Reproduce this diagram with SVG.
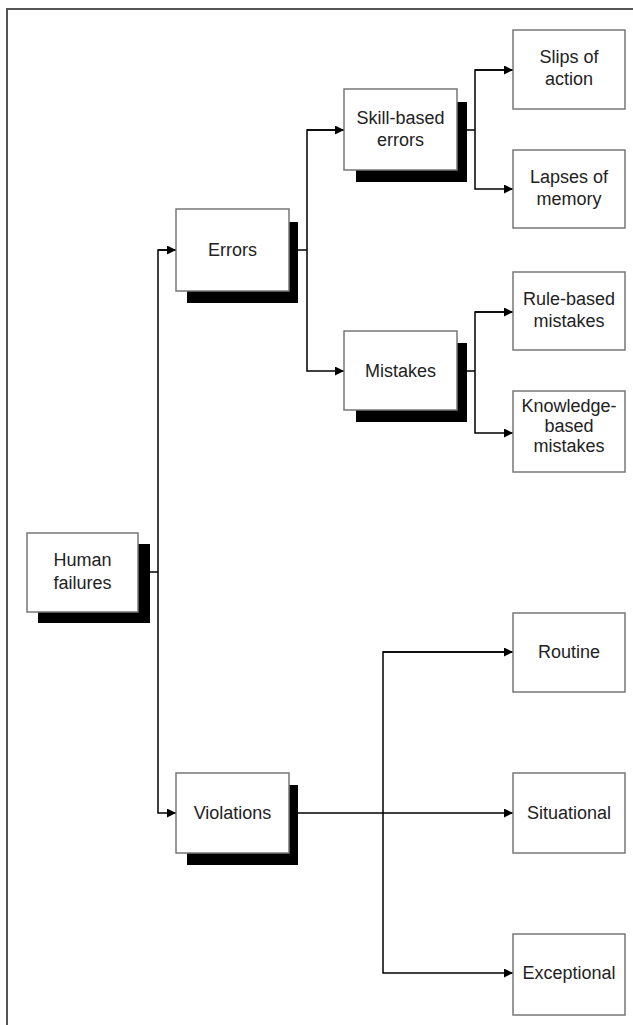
<svg xmlns="http://www.w3.org/2000/svg" width="633" height="1025" viewBox="0 0 633 1025">
<style>
.box{fill:#fff;stroke:#777;stroke-width:1.5}
.sh{fill:#000}
.t{font-family:"Liberation Sans",Arial,sans-serif;font-size:18px;fill:#222;text-anchor:middle}
.c{fill:none;stroke:#000;stroke-width:1.5}
</style>
<defs>
<marker id="ah" viewBox="0 0 10 10" refX="10" refY="5" markerWidth="10" markerHeight="9" markerUnits="userSpaceOnUse" orient="auto">
<path d="M0,0 L10,5 L0,10 z" fill="#000"/>
</marker>
</defs>
<rect width="633" height="1025" fill="#fff"/>
<path d="M7,1025 V9 H633" fill="none" stroke="#555" stroke-width="2"/>
<g id="connectors">
<path class="c" d="M138,572 H158"/>
<path class="c" d="M176,250 H158 V813 H176" marker-end="url(#ah)"/>
<path class="c" d="M158,250 H176" marker-end="url(#ah)"/>
<path class="c" d="M289,250 H307"/>
<path class="c" d="M344,130 H307 V371 H344" marker-end="url(#ah)"/>
<path class="c" d="M307,130 H344" marker-end="url(#ah)"/>
<path class="c" d="M457,130 H475"/>
<path class="c" d="M513,70 H475 V189 H513" marker-end="url(#ah)"/>
<path class="c" d="M475,70 H513" marker-end="url(#ah)"/>
<path class="c" d="M457,371 H475"/>
<path class="c" d="M513,312 H475 V433 H513" marker-end="url(#ah)"/>
<path class="c" d="M475,312 H513" marker-end="url(#ah)"/>
<path class="c" d="M289,813 H513" marker-end="url(#ah)"/>
<path class="c" d="M513,652 H383 V973 H513" marker-end="url(#ah)"/>
<path class="c" d="M383,652 H513" marker-end="url(#ah)"/>
</g>
<g id="human-failures">
<rect class="sh" x="38" y="544" width="112" height="79"/>
<rect class="box" x="27" y="533" width="111" height="79"/>
<text class="t" x="82.5" y="566">Human</text>
<text class="t" x="82.5" y="589">failures</text>
</g>
<g id="errors">
<rect class="sh" x="187" y="222" width="111" height="81"/>
<rect class="box" x="176" y="209" width="113" height="82"/>
<text class="t" x="232.5" y="256">Errors</text>
</g>
<g id="violations">
<rect class="sh" x="187" y="785" width="111" height="80"/>
<rect class="box" x="176" y="773" width="113" height="80"/>
<text class="t" x="232.5" y="819">Violations</text>
</g>
<g id="skill-based">
<rect class="sh" x="356" y="102" width="111" height="80"/>
<rect class="box" x="344" y="89" width="113" height="81"/>
<text class="t" x="400.5" y="124">Skill-based</text>
<text class="t" x="400.5" y="146">errors</text>
</g>
<g id="mistakes">
<rect class="sh" x="356" y="343" width="111" height="79"/>
<rect class="box" x="344" y="331" width="113" height="79"/>
<text class="t" x="400.5" y="377">Mistakes</text>
</g>
<g id="slips">
<rect class="box" x="513" y="30" width="112" height="79"/>
<text class="t" x="569" y="63">Slips of</text>
<text class="t" x="569" y="85">action</text>
</g>
<g id="lapses">
<rect class="box" x="513" y="150" width="112" height="78"/>
<text class="t" x="569" y="183">Lapses of</text>
<text class="t" x="569" y="205">memory</text>
</g>
<g id="rule-based">
<rect class="box" x="513" y="272" width="112" height="78"/>
<text class="t" x="569" y="305">Rule-based</text>
<text class="t" x="569" y="327">mistakes</text>
</g>
<g id="knowledge-based">
<rect class="box" x="513" y="391" width="112" height="81"/>
<text class="t" x="569" y="412">Knowledge-</text>
<text class="t" x="569" y="432">based</text>
<text class="t" x="569" y="452">mistakes</text>
</g>
<g id="routine">
<rect class="box" x="513" y="613" width="112" height="79"/>
<text class="t" x="569" y="658">Routine</text>
</g>
<g id="situational">
<rect class="box" x="513" y="773" width="112" height="80"/>
<text class="t" x="569" y="819">Situational</text>
</g>
<g id="exceptional">
<rect class="box" x="513" y="934" width="112" height="81"/>
<text class="t" x="569" y="979">Exceptional</text>
</g>
</svg>
